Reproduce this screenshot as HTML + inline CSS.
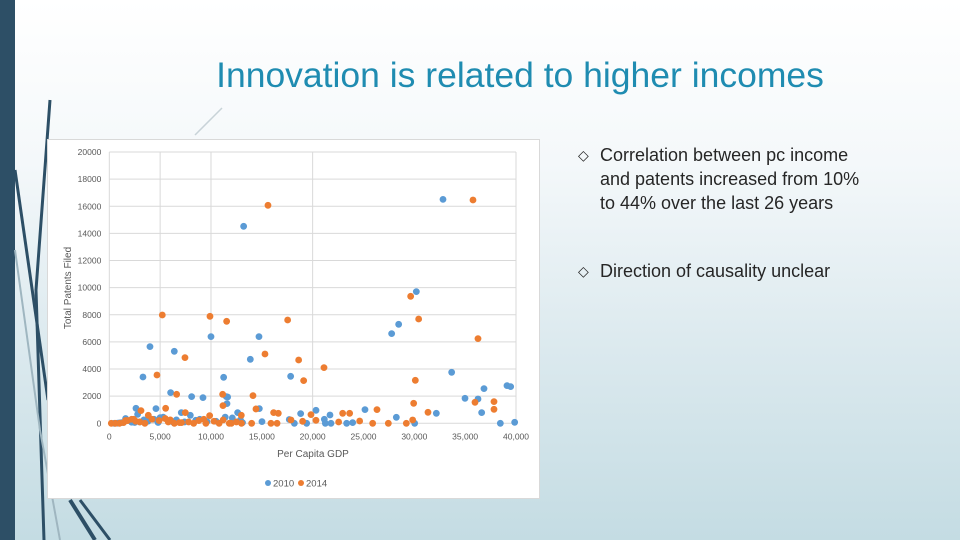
<!DOCTYPE html>
<html><head><meta charset="utf-8">
<style>
html,body{margin:0;padding:0;}
body{width:960px;height:540px;overflow:hidden;position:relative;font-family:"Liberation Sans",sans-serif;
background:linear-gradient(180deg,#ffffff 0%,#f4f8fa 30%,#dbe9ee 65%,#c4dce3 100%);}
.bar{position:absolute;left:0;top:0;width:15px;height:540px;background:#2d4f66;}
.title{position:absolute;left:120px;width:800px;top:55px;text-align:center;font-size:35.5px;color:#1f8cb1;}
.bul{position:absolute;left:578px;font-size:18px;color:#262626;line-height:24px;width:300px;}
.bul span.m{position:absolute;left:0;top:0;font-size:14px;}
.bul div{padding-left:22px;}
.chart{position:absolute;left:47px;top:139px;width:493px;height:360px;background:#fff;border:1px solid #d9d9d9;box-sizing:border-box;}
</style></head><body>
<div class="bar"></div>
<svg style="position:absolute;left:0;top:0" width="960" height="540">
<path d="M50,100 L36,290 L44,540" stroke="#2d4f66" stroke-width="3" fill="none"/>
<path d="M15,170 L48,400" stroke="#2d4f66" stroke-width="3" fill="none"/>
<path d="M15,250 L40,430 L60,540" stroke="#9fb6c0" stroke-width="2" fill="none"/>
<path d="M70,500 L95,540" stroke="#2d4f66" stroke-width="4" fill="none"/>
<path d="M80,500 L110,540" stroke="#2d4f66" stroke-width="3" fill="none"/>
<path d="M195,135 L222,108" stroke="#c8d3d8" stroke-width="1.5" fill="none"/>
</svg>
<div class="title">Innovation is related to higher incomes</div>
<div class="bul" style="top:143px"><span class="m">◇</span><div>Correlation between pc income and patents increased from 10% to 44% over the last 26 years</div></div>
<div class="bul" style="top:259px"><span class="m">◇</span><div>Direction of causality unclear</div></div>
<div class="chart">
<svg id="sv" width="493" height="360"></svg>
</div>
<script>
const xTicks=[0,5000,10000,15000,20000,25000,30000,35000,40000];
const xTickLabels=["0","5,000","10,000","15,000","20,000","25,000","30,000","35,000","40,000"];
const yTicks=[0,2000,4000,6000,8000,10000,12000,14000,16000,18000,20000];
const vGrid=[5000,10000,20000,40000];
const gdp2010=[13213,32820,30197,28459,27770,4000,6393,10000,14721,13869,3311,11246,17836,33672,6033,8098,9213,11508,11639,39115,39475,36852,34984,36262,2623,4590,2787,11574,14754,20328,25147,32164,36623,18820,21705,12623,7082,7967,28230,21148,38459,39869,30033,15016,19410,23344,23934,21803,21246,1600,3400,5300,8900,10500,12100,12900,11400,17700,18200,1200,2000,3000,4400,5000,6600,7400,8500,9600,500,1000,2200,3800,4800,6200,11900,13100,800,2500];
const pat2010=[14520,16510,9705,7297,6609,5650,5307,6388,6388,4717,3415,3390,3464,3759,2260,1966,1892,1966,1941,2776,2703,2555,1843,1794,1105,1081,663,1450,1081,958,1007,737,786,712,614,786,786,590,442,295,0,74,0,123,0,0,49,0,0,350,250,450,300,150,400,250,450,280,0,50,200,100,300,420,250,100,220,130,0,30,80,150,60,120,30,50,10,60];
const gdp2014=[15607,35770,29639,30426,5213,9902,11541,17541,36262,7443,15311,18623,21115,4689,19115,30098,6623,14131,11148,11180,29934,35967,37836,37836,5541,3115,14426,31344,26328,22951,23639,19836,16164,16623,12984,3836,7475,9869,27443,29213,29836,25902,24623,22557,20328,17869,19016,15900,16500,14000,12000,13000,9500,200,600,1000,1400,1800,2200,2600,3000,3500,4200,4900,5500,6000,6400,6900,7800,8300,8800,9300,10300,10800,11200,11800,12500,2400,1600,5800,7100];
const pat2014=[16069,16462,9361,7690,7985,7887,7518,7617,6240,4840,5110,4668,4103,3563,3145,3170,2138,2039,2138,1302,1474,1548,1597,1032,1106,934,1057,811,1007,737,737,639,786,737,590,590,786,565,0,0,246,0,172,98,221,246,147,0,0,0,0,0,0,0,0,0,50,200,300,150,100,0,300,200,350,250,0,50,100,0,200,300,150,0,250,0,100,300,200,100,50];
const svg=document.getElementById('sv');const NS='http://www.w3.org/2000/svg';
const L=61.3,R=468,T=12,B=283.3;
const sx=v=>L+(v/40000)*(R-L), sy=v=>B-(v/20000)*(B-T);
function mk(t,a){const e=document.createElementNS(NS,t);for(const k in a)e.setAttribute(k,a[k]);svg.appendChild(e);return e;}
yTicks.forEach(v=>{const l=mk('line',{x1:L,x2:R,y1:sy(v),y2:sy(v),stroke:'#d9d9d9','stroke-width':1});


const t=mk('text',{x:L-8,y:sy(v)+3,'text-anchor':'end','font-size':8.5,fill:'#595959','font-family':'Liberation Sans'});t.textContent=v;

});
vGrid.forEach(v=>{const l=mk('line',{x1:sx(v),x2:sx(v),y1:T,y2:B,stroke:'#d9d9d9','stroke-width':1});

});
const ax=mk('line',{x1:L,x2:L,y1:T,y2:B,stroke:'#d9d9d9'});


xTicks.forEach((v,i)=>{const t=mk('text',{x:sx(v),y:B+16,'text-anchor':'middle','font-size':8.5,fill:'#595959','font-family':'Liberation Sans'});t.textContent=xTickLabels[i];

});
function pts(xs,ys,c,n){xs.forEach((x,i)=>{const p=mk('circle',{cx:sx(x),cy:sy(ys[i]),r:3.4,fill:c});

});}
pts(gdp2010,pat2010,'#5b9bd5','point-2010');
pts(gdp2014,pat2014,'#ed7d31','point-2014');
let t=mk('text',{x:265,y:317,'text-anchor':'middle','font-size':10,fill:'#595959','font-family':'Liberation Sans'});t.textContent='Per Capita GDP';


t=mk('text',{x:0,y:0,'text-anchor':'middle','font-size':10,fill:'#595959','font-family':'Liberation Sans',transform:'translate(23,148) rotate(-90)'});t.textContent='Total Patents Filed';


const lg=[['2010','#5b9bd5',220],['2014','#ed7d31',253]];
lg.forEach(d=>{const c=mk('circle',{cx:d[2],cy:343,r:3,fill:d[1]});


const tx=mk('text',{x:d[2]+5,y:346.5,'font-size':9.5,fill:'#595959','font-family':'Liberation Sans'});tx.textContent=d[0];

});
</script>
</body></html>
